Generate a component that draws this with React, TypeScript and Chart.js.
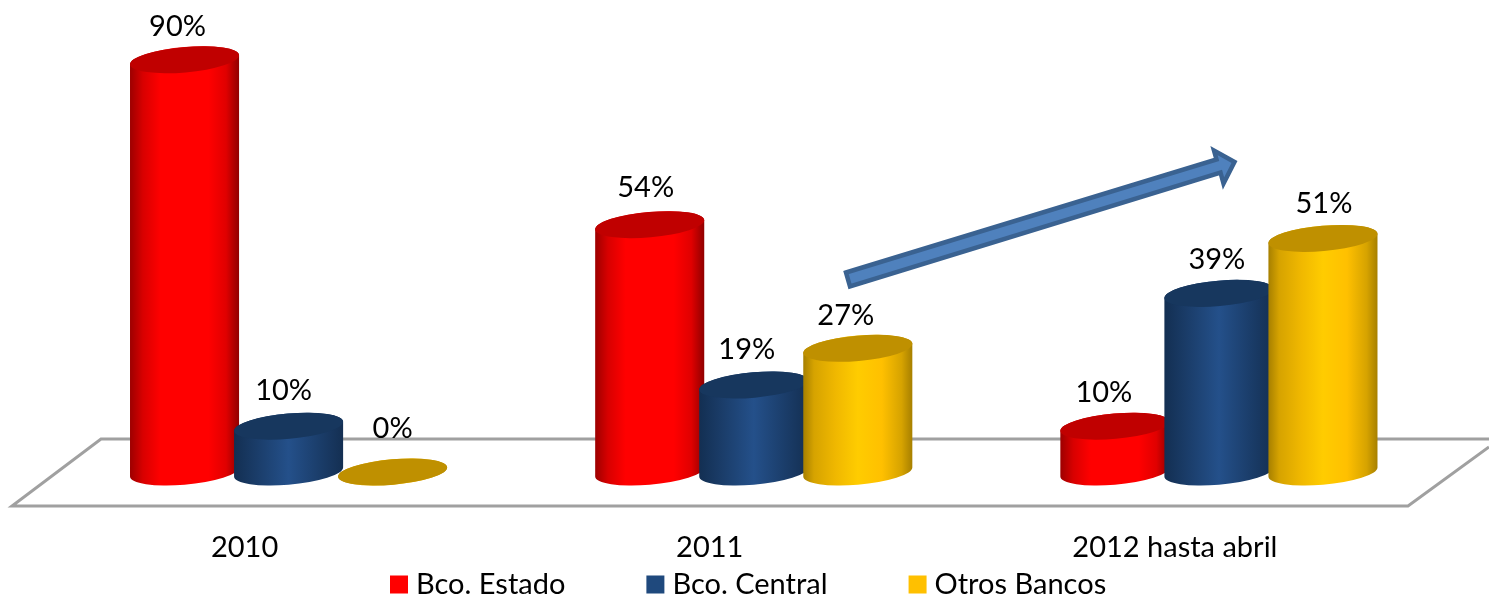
import React, { useEffect, useRef } from "react";
import { Chart, registerables } from "chart.js";

Chart.register(...registerables);

const categories = ["2010", "2011", "2012 hasta abril"];
const estado = [90, 54, 10];
const central = [10, 19, 39];
const otros = [0, 27, 51];

const FONT = "Lato, Carlito, 'Open Sans', sans-serif";
const FONT_SIZE = 29;
const RED = "#ff0000";
const BLUE = "#1f497d";
const GOLD = "#ffc000";

// style for each series: gradient stops across the cylinder body and the cap colour
const looks = [
  { cap: "#c00000", stops: [[0, "#9c0000"], [0.12, "#d80000"], [0.28, "#ff0000"], [0.72, "#ff0000"], [0.88, "#e00000"], [1, "#8f0000"]] },
  { cap: "#17375e", stops: [[0, "#132f52"], [0.2, "#1a3c68"], [0.5, "#24508a"], [0.8, "#1a3c68"], [1, "#142f52"]] },
  { cap: "#bf9000", stops: [[0, "#a67f00"], [0.1, "#d6a300"], [0.3, "#f0b800"], [0.5, "#ffcc00"], [0.72, "#ffc000"], [0.9, "#d6a300"], [1, "#a67f00"]] },
];

// per-label nudges from the cap centre (series, then category)
const labelNudge = [
  [[-7, -33], [-4, -37], [-11, -34]],
  [[-5, -36], [-7, -35], [-2, -34]],
  [[0, -43], [-12, -33], [1, -35]],
];

const ROT = (-5 * Math.PI) / 180;
const T0 = 0.0203;

function drawCylinder(ctx: CanvasRenderingContext2D, bar: any, look: any) {
  const cx = bar.x;
  const a = bar.width * 0.526;
  const b = 12.7;
  const grad = ctx.createLinearGradient(cx - a, 0, cx + a, 0);
  look.stops.forEach((s: any) => grad.addColorStop(s[0], s[1]));
  ctx.beginPath();
  ctx.ellipse(cx, bar.base, a, b, ROT, T0, Math.PI + T0);
  ctx.ellipse(cx, bar.y, a, b, ROT, Math.PI + T0, 2 * Math.PI + T0);
  ctx.closePath();
  ctx.fillStyle = grad;
  ctx.fill();
  ctx.beginPath();
  ctx.ellipse(cx, bar.y, a, b, ROT, 0, 2 * Math.PI);
  ctx.fillStyle = look.cap;
  ctx.fill();
}

function drawFloor(ctx: CanvasRenderingContext2D) {
  ctx.save();
  ctx.strokeStyle = "#a0a0a0";
  ctx.lineWidth = 3;
  ctx.lineJoin = "miter";
  ctx.beginPath();
  ctx.moveTo(1489, 439);
  ctx.lineTo(101, 439);
  ctx.lineTo(12, 506);
  ctx.lineTo(1408, 506);
  ctx.lineTo(1489, 447);
  ctx.stroke();
  ctx.restore();
}

function drawArrow(ctx: CanvasRenderingContext2D) {
  ctx.save();
  ctx.beginPath();
  ctx.moveTo(846, 272.5);
  ctx.lineTo(1216.5, 159.5);
  ctx.lineTo(1214, 150.5);
  ctx.lineTo(1234.5, 162);
  ctx.lineTo(1223.5, 183.5);
  ctx.lineTo(1220.5, 172.5);
  ctx.lineTo(850, 286.5);
  ctx.closePath();
  ctx.fillStyle = "#4f81bd";
  ctx.strokeStyle = "#3a6291";
  ctx.lineWidth = 4.5;
  ctx.lineJoin = "miter";
  ctx.fill();
  ctx.stroke();
  ctx.restore();
}

const cylinderPlugin = {
  id: "cylinders",
  afterLayout(chart: any) {
    const legend = chart.legend;
    const pad = legend.options.labels.padding;
    legend.left = 396.5 - pad;
    legend.right = 1489;
    legend.top = 570 - pad;
  },
  beforeDatasetsDraw(chart: any) {
    const ctx = chart.ctx;
    drawFloor(ctx);
    for (let c = 0; c < categories.length; c++) {
      chart.data.datasets.forEach((_: any, s: number) => {
        drawCylinder(ctx, chart.getDatasetMeta(s).data[c], looks[s]);
      });
    }
    drawArrow(ctx);
    ctx.save();
    ctx.fillStyle = "#000";
    ctx.font = `${FONT_SIZE}px ${FONT}`;
    ctx.textAlign = "center";
    ctx.textBaseline = "middle";
    chart.data.datasets.forEach((ds: any, s: number) => {
      ds.data.forEach((v: number, c: number) => {
        const bar = chart.getDatasetMeta(s).data[c];
        const n = labelNudge[s][c];
        ctx.fillText(`${v}%`, bar.x + n[0], bar.y + n[1]);
      });
    });
    ctx.restore();
    return false;
  },
};

export default function App() {
  const ref = useRef<HTMLCanvasElement>(null);
  useEffect(() => {
    const chart = new Chart(ref.current as HTMLCanvasElement, {
      type: "bar",
      data: {
        labels: categories,
        datasets: [
          { label: "Bco. Estado", data: estado, backgroundColor: RED },
          { label: "Bco. Central", data: central, backgroundColor: BLUE },
          { label: "Otros Bancos", data: otros, backgroundColor: GOLD },
        ],
      },
      options: {
        animation: false,
        responsive: false,
        events: [],
        layout: { padding: { left: 56, right: 37.5, top: 14, bottom: 0 } },
        datasets: { bar: { categoryPercentage: 0.671, barPercentage: 1 } },
        scales: {
          x: {
            grid: { display: false },
            border: { display: false },
            afterFit(s: any) {
              s.height = 124;
            },
            ticks: {
              autoSkip: false,
              maxRotation: 0,
              labelOffset: -44,
              padding: 50,
              color: "#000",
              font: { family: FONT, size: FONT_SIZE },
            },
          },
          y: { display: false, min: 0, max: 100 },
        },
        plugins: {
          tooltip: { enabled: false },
          legend: {
            position: "bottom",
            align: "start",
            maxHeight: 1,
            labels: {
              usePointStyle: true,
              pointStyle: "rect",
              boxWidth: 5,
              boxHeight: 18,
              padding: 87.5,
              color: "#000",
              font: { family: FONT, size: FONT_SIZE },
            },
          },
        },
      } as any,
      plugins: [cylinderPlugin as any],
    });
    return () => chart.destroy();
  }, []);
  return (
    <canvas
      ref={ref}
      width={1489}
      height={597}
      style={{ position: "absolute", left: 0, top: 0, display: "block", width: 1489, height: 597 }}
    />
  );
}
